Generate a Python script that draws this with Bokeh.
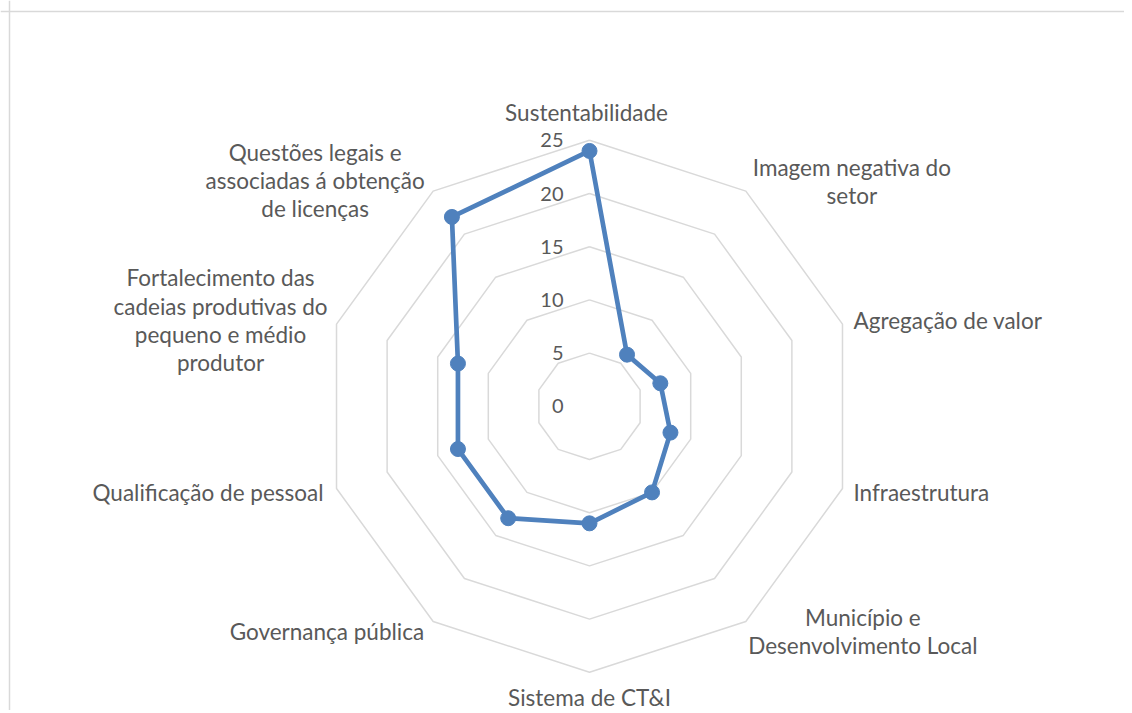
import math
from bokeh.plotting import figure
from bokeh.models import Range1d, Span
from bokeh.core.properties import value
from bokeh.embed import file_html
from bokeh.resources import INLINE

# ---- data ----
CATEGORIES = [
    "Sustentabilidade",
    "Imagem negativa do\nsetor",
    "Agregação de valor",
    "Infraestrutura",
    "Município e\nDesenvolvimento Local",
    "Sistema de CT&I",
    "Governança pública",
    "Qualificação de pessoal",
    "Fortalecimento das\ncadeias produtivas do\npequeno e médio\nprodutor",
    "Questões legais e\nassociadas á obtenção\nde licenças",
]
VALUES = [24, 6, 7, 8, 10, 11, 13, 13, 13, 22]
RING_TICKS = [0, 5, 10, 15, 20, 25]
RMAX = 25

# ---- styles / layout ----
W, H = 1124, 710
CX, CY = 589.0, 405.8          # centre in figure pixels (from top-left)
PX_PER_UNIT = 266.0 / RMAX
LABEL_ALIGN = ["center", "center", "left", "left", "center",
               "center", "right", "right", "center", "center"]
LABEL_OFFSET = [(-3, -28), (106, -10), (11, -4), (11, 4), (117, 10),
                (0, 25), (-9, 10), (-13, 4), (-116, -4), (-118, -11)]
BLUE = "#4f81bd"
GRID = "#d9d9d9"
TXT = "#595959"
FONT = "Lato"

p = figure(width=W, height=H, output_backend="svg", toolbar_location=None,
           min_border=0, x_range=Range1d(-CX / PX_PER_UNIT, (W - CX) / PX_PER_UNIT),
           y_range=Range1d(-(H - CY) / PX_PER_UNIT, CY / PX_PER_UNIT))
p.axis.visible = False
p.grid.visible = False
p.outline_line_color = None
p.background_fill_color = "white"
p.border_fill_color = "white"

# chart-area border (left and top edges visible in the reference)
p.add_layout(Span(location=(9 - CX) / PX_PER_UNIT, dimension="height",
                  line_color=GRID, line_width=1.5))
p.add_layout(Span(location=(CY - 11) / PX_PER_UNIT, dimension="width",
                  line_color=GRID, line_width=1.5))

n = len(CATEGORIES)
ang = [2 * math.pi * i / n for i in range(n)]

# rings
for r in RING_TICKS[1:]:
    xs = [r * math.sin(a) for a in ang] + [0]
    ys = [r * math.cos(a) for a in ang] + [r]
    p.line(xs, ys, line_color=GRID, line_width=1.5)

# value tick labels
p.text(x=[0] * len(RING_TICKS), y=RING_TICKS, text=[str(t) for t in RING_TICKS],
       text_align="right", text_baseline="middle", x_offset=-26,
       text_font=value(FONT), text_font_size="20px", text_color=TXT)

# series
sx = [v * math.sin(a) for v, a in zip(VALUES, ang)]
sy = [v * math.cos(a) for v, a in zip(VALUES, ang)]
p.line(sx + sx[:1], sy + sy[:1], line_color=BLUE, line_width=4.7, line_join="round")
p.scatter(sx, sy, size=15, fill_color=BLUE, line_color=BLUE)

# category labels
for i, lab in enumerate(CATEGORIES):
    vx = RMAX * math.sin(ang[i])
    vy = RMAX * math.cos(ang[i])
    dx, dy = LABEL_OFFSET[i]
    p.text(x=[vx], y=[vy], text=[lab], text_align=LABEL_ALIGN[i],
           text_baseline="middle", x_offset=dx, y_offset=dy,
           text_font=value(FONT), text_font_size="22.5px", text_color=TXT,
           text_line_height=1.04)

open("out.html", "w").write(file_html(p, INLINE))
